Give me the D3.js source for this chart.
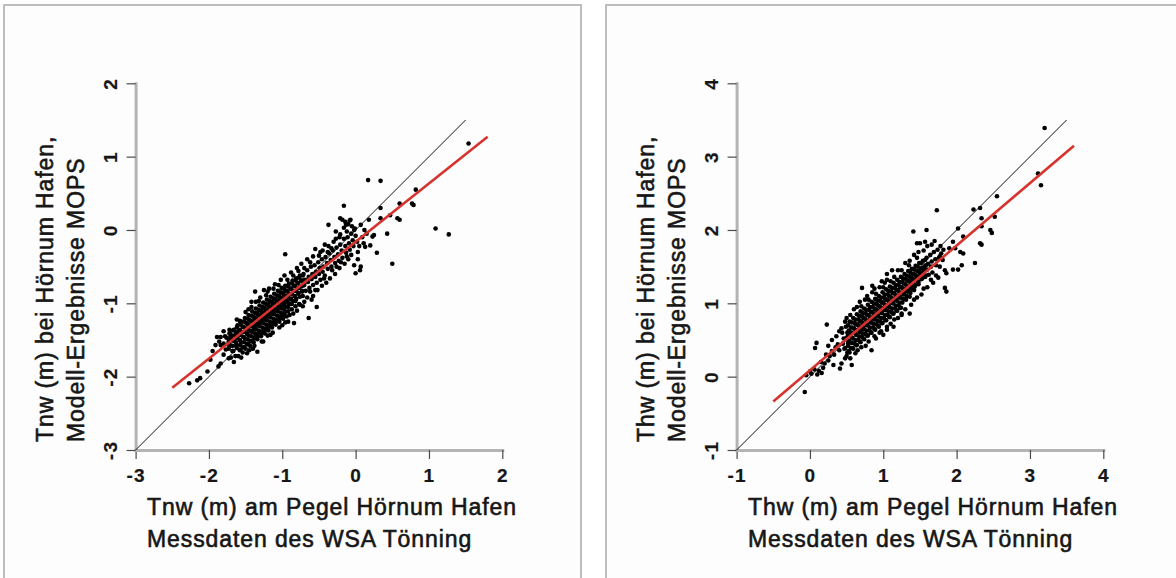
<!DOCTYPE html>
<html>
<head>
<meta charset="utf-8">
<script src="https://cdn.jsdelivr.net/npm/d3@7"></script>
<style>
  body { margin: 0; background: #fff; }
  text { font-family: "Liberation Sans", Arial, sans-serif; fill: #161616; stroke: #161616; stroke-width: 0.6px; }
  .tick text { font-weight: bold; stroke-width: 0.2px; }
</style>
</head>
<body>
<svg id="chart" width="1176" height="578"></svg>
<script>
// ---- data ----
const tnwTicks = [-3, -2, -1, 0, 1, 2];
const thwTicks = [-1, 0, 1, 2, 3, 4];

const tnwXTitle = ["Tnw (m) am Pegel Hörnum Hafen", "Messdaten des WSA Tönning"];
const tnwYTitle = ["Tnw (m) bei Hörnum Hafen,", "Modell-Ergebnisse MOPS"];
const thwXTitle = ["Thw (m) am Pegel Hörnum Hafen", "Messdaten des WSA Tönning"];
const thwYTitle = ["Thw (m) bei Hörnum Hafen,", "Modell-Ergebnisse MOPS"];

// 1:1 line and regression line (end points)
const tnwIdentity = [[-3, -3], [1.5, 1.5]];
const tnwFit = [[-2.5, -2.15], [1.8, 1.27]];
const thwIdentity = [[-1, -1], [3.5, 3.5]];
const thwFit = [[-0.5, -0.34], [3.6, 3.15]];

// measured (x) vs model (y), Tnw
const tnwPoints = [
  [-1.76,-1.47],[-1.74,-1.56],[-1.77,-1.63],[-1.73,-1.52],
  [-1.71,-1.42],[-1.69,-1.50],[-1.72,-1.58],[-1.68,-1.65],[-1.70,-1.46],
  [-1.66,-1.36],[-1.64,-1.44],[-1.65,-1.51],[-1.63,-1.58],[-1.67,-1.65],[-1.62,-1.40],
  [-1.61,-1.30],[-1.59,-1.37],[-1.60,-1.44],[-1.58,-1.50],[-1.62,-1.57],[-1.57,-1.63],
  [-1.56,-1.25],[-1.54,-1.32],[-1.55,-1.39],[-1.53,-1.46],[-1.56,-1.53],[-1.52,-1.60],[-1.54,-1.67],
  [-1.51,-1.20],[-1.49,-1.27],[-1.50,-1.34],[-1.48,-1.41],[-1.51,-1.48],[-1.47,-1.55],[-1.50,-1.62],
  [-1.46,-1.16],[-1.44,-1.23],[-1.45,-1.30],[-1.43,-1.37],[-1.46,-1.44],[-1.42,-1.51],[-1.44,-1.58],
  [-1.41,-1.11],[-1.39,-1.18],[-1.40,-1.25],[-1.38,-1.32],[-1.41,-1.39],[-1.37,-1.46],[-1.39,-1.53],[-1.42,-1.05],
  [-1.36,-1.07],[-1.34,-1.14],[-1.35,-1.21],[-1.33,-1.28],[-1.36,-1.35],[-1.32,-1.42],[-1.34,-1.49],
  [-1.31,-1.03],[-1.29,-1.10],[-1.30,-1.17],[-1.28,-1.24],[-1.31,-1.31],[-1.27,-1.38],[-1.29,-1.45],[-1.32,-0.97],
  [-1.26,-0.99],[-1.24,-1.06],[-1.25,-1.13],[-1.23,-1.20],[-1.26,-1.27],[-1.22,-1.34],[-1.24,-1.41],
  [-1.21,-0.95],[-1.19,-1.02],[-1.20,-1.09],[-1.18,-1.16],[-1.21,-1.23],[-1.17,-1.30],[-1.19,-1.37],[-1.22,-0.89],
  [-1.16,-0.91],[-1.14,-0.98],[-1.15,-1.05],[-1.13,-1.12],[-1.16,-1.19],[-1.12,-1.26],[-1.14,-1.33],
  [-1.11,-0.87],[-1.09,-0.94],[-1.10,-1.01],[-1.08,-1.08],[-1.11,-1.15],[-1.07,-1.22],[-1.09,-1.29],
  [-1.06,-0.83],[-1.04,-0.90],[-1.05,-0.97],[-1.03,-1.04],[-1.06,-1.11],[-1.02,-1.18],[-1.04,-1.25],
  [-1.01,-0.79],[-0.99,-0.86],[-1.00,-0.93],[-0.98,-1.00],[-1.01,-1.07],[-0.97,-1.14],[-0.99,-1.21],
  [-0.96,-0.76],[-0.94,-0.83],[-0.95,-0.90],[-0.93,-0.97],[-0.96,-1.04],[-0.92,-1.11],[-0.94,-1.18],
  [-0.91,-0.73],[-0.89,-0.80],[-0.90,-0.87],[-0.88,-0.94],[-0.91,-1.01],[-0.87,-1.08],
  [-0.86,-0.69],[-0.84,-0.76],[-0.85,-0.83],[-0.83,-0.90],[-0.86,-0.97],[-0.82,-1.04],
  [-0.81,-0.66],[-0.79,-0.73],[-0.80,-0.80],[-0.78,-0.87],[-0.81,-0.94],[-0.77,-1.01],
  [-0.76,-0.62],[-0.74,-0.69],[-0.75,-0.77],[-0.73,-0.84],[-0.76,-0.91],
  [-0.71,-0.60],[-0.69,-0.68],[-0.70,-0.75],[-0.68,-0.83],[-0.72,-0.90],
  [-0.66,-0.55],[-0.64,-0.64],[-0.65,-0.71],[-0.63,-0.79],
  [-0.61,-0.50],[-0.59,-0.60],[-0.60,-0.67],[-0.58,-0.75],[-0.62,-0.84],
  [-0.56,-0.48],[-0.54,-0.57],[-0.55,-0.64],[-0.53,-0.72],
  [-0.51,-0.44],[-0.49,-0.52],[-0.50,-0.60],[-0.48,-0.68],
  [-0.46,-0.40],[-0.44,-0.50],[-0.45,-0.57],[-0.43,-0.66],
  [-0.41,-0.37],[-0.39,-0.45],[-0.38,-0.53],[-0.42,-0.62],
  [-0.36,-0.32],[-0.34,-0.41],[-0.33,-0.50],
  [-0.31,-0.28],[-0.29,-0.37],[-0.28,-0.45],[-0.32,-0.55],
  [-0.26,-0.24],[-0.24,-0.33],[-0.23,-0.42],
  [-0.21,-0.20],[-0.19,-0.28],[-0.18,-0.38],
  [-0.16,-0.12],[-0.14,-0.22],[-0.13,-0.31],
  [-0.11,-0.10],[-0.09,-0.18],[-0.08,-0.27],
  [-0.06,-0.05],[-0.04,-0.14],[-0.03,-0.22],
  [0.00,-0.08],[0.02,-0.16],[-0.01,0.02],
  [-1.72,-1.41],[-1.73,-1.48],[-1.72,-1.55],[-1.73,-1.62],
  [-1.67,-1.37],[-1.68,-1.44],[-1.67,-1.51],[-1.68,-1.58],[-1.67,-1.65],
  [-1.62,-1.33],[-1.63,-1.40],[-1.62,-1.47],[-1.63,-1.54],[-1.62,-1.61],
  [-1.57,-1.29],[-1.58,-1.36],[-1.57,-1.43],[-1.58,-1.50],[-1.57,-1.57],[-1.58,-1.64],
  [-1.52,-1.25],[-1.53,-1.32],[-1.52,-1.39],[-1.53,-1.46],[-1.52,-1.53],[-1.53,-1.60],
  [-1.47,-1.21],[-1.48,-1.28],[-1.47,-1.35],[-1.48,-1.42],[-1.47,-1.49],[-1.48,-1.56],
  [-1.42,-1.17],[-1.43,-1.24],[-1.42,-1.31],[-1.43,-1.38],[-1.42,-1.45],[-1.43,-1.52],
  [-1.37,-1.13],[-1.38,-1.20],[-1.37,-1.27],[-1.38,-1.34],[-1.37,-1.41],[-1.38,-1.48],
  [-1.32,-1.09],[-1.33,-1.16],[-1.32,-1.23],[-1.33,-1.30],[-1.32,-1.37],[-1.33,-1.44],
  [-1.27,-1.05],[-1.28,-1.12],[-1.27,-1.19],[-1.28,-1.26],[-1.27,-1.33],[-1.28,-1.40],
  [-1.22,-1.01],[-1.23,-1.08],[-1.22,-1.15],[-1.23,-1.22],[-1.22,-1.29],[-1.23,-1.36],
  [-1.17,-0.97],[-1.18,-1.04],[-1.17,-1.11],[-1.18,-1.18],[-1.17,-1.25],[-1.18,-1.32],
  [-1.12,-0.93],[-1.13,-1.00],[-1.12,-1.07],[-1.13,-1.14],[-1.12,-1.21],[-1.13,-1.28],
  [-1.07,-0.89],[-1.08,-0.96],[-1.07,-1.03],[-1.08,-1.10],[-1.07,-1.17],[-1.08,-1.24],
  [-1.02,-0.85],[-1.03,-0.92],[-1.02,-0.99],[-1.03,-1.06],[-1.02,-1.13],[-1.03,-1.20],
  [-0.97,-0.81],[-0.98,-0.88],[-0.97,-0.95],[-0.98,-1.02],[-0.97,-1.09],[-0.98,-1.16],
  [-0.92,-0.77],[-0.93,-0.84],[-0.92,-0.91],[-0.93,-0.98],[-0.92,-1.05],
  [-0.87,-0.73],[-0.88,-0.80],[-0.87,-0.87],[-0.88,-0.94],[-0.87,-1.01],
  [-0.82,-0.69],[-0.83,-0.76],[-0.82,-0.83],[-0.83,-0.90],[-0.82,-0.97],
  [-0.77,-0.65],[-0.78,-0.72],[-0.77,-0.79],[-0.78,-0.86],
  [-0.72,-0.62],[-0.73,-0.69],[-0.72,-0.76],[-0.73,-0.83],
  [-1.72,-1.36],[-1.58,-1.24],[-1.50,-1.12],[-1.42,-0.98],[-1.30,-0.92],[-1.20,-0.84],
  [-1.12,-0.80],[-1.05,-0.75],[-0.93,-0.68],[-0.85,-0.62],[-0.78,-0.56],[-0.70,-0.52],[-0.62,-0.44],
  [-1.64,-1.72],[-1.56,-1.74],[-1.45,-1.64],[-1.38,-1.58],[-1.28,-1.52],[-1.20,-1.44],
  [-1.13,-1.40],[-1.04,-1.33],[-0.96,-1.26],[-0.90,-1.16],[-0.80,-1.10],[-0.72,-1.04],
  [-0.66,-0.92],[-0.60,-0.95],[-0.55,-0.82],
  [-1.80,-1.38],[-1.62,-1.22],[-1.46,-1.08],[-1.36,-0.98],[-1.37,-0.84],[-1.25,-0.82],
  [-1.18,-0.80],[-1.10,-0.74],[-1.02,-0.68],[-0.96,-0.33],[-0.97,-0.62],[-0.88,-0.58],
  [-0.80,-0.52],[-0.74,-0.46],[-0.66,-0.40],[-0.58,-0.36],[-0.55,-0.26],[-0.48,-0.30],
  [-0.42,-0.20],[-0.37,-0.22],[-0.30,-0.16],[-0.27,-0.02],[-0.21,-0.06],[-0.16,0.03],[-0.13,0.07],
  [-1.70,-1.74],[-1.60,-1.72],[-1.48,-1.68],[-1.40,-1.62],[-1.34,-1.66],[-1.26,-1.52],
  [-1.16,-1.43],[-1.00,-1.30],[-0.92,-1.25],[-0.84,-1.27],[-0.85,-1.14],[-0.76,-1.02],
  [-0.70,-0.98],[-0.64,-1.20],[-0.53,-1.05],[-0.58,-0.90],[-0.52,-0.82],[-0.46,-0.76],
  [-0.40,-0.72],[-0.35,-0.66],[-0.28,-0.60],[-0.22,-0.52],[-0.15,-0.46],[-0.10,-0.40],
  [-0.02,-0.48],[0.00,-0.59],[0.06,-0.55],[0.07,-0.50],
  [-1.84,-1.46],[-1.89,-1.46],[-1.91,-1.57],[-1.84,-1.57],[-1.98,-1.77],[-1.87,-1.86],
  [-1.84,-1.82],[-2.02,-1.93],[-1.73,-1.75],[-1.66,-1.80],[-2.12,-2.02],[-2.16,-2.05],
  [-2.27,-2.09],[-1.80,-1.70],[-1.95,-1.65],[-1.86,-1.52],[-1.80,-1.55],[-1.78,-1.45],
  [-0.50,-0.35],[-0.45,-0.28],[-0.38,-0.30],[-0.33,-0.25],[-0.27,-0.12],[-0.22,-0.10],
  [-0.12,-0.02],[-0.10,0.08],[-0.02,0.00],[0.03,-0.30],[0.05,-0.22],[0.09,-0.10],
  [0.12,0.00],[-0.06,-0.34],[-0.12,-0.36],[-0.20,-0.44],[-0.26,-0.50],[0.15,-0.05],[0.03,-0.40],
  [0.17,0.68],[0.34,0.67],[0.82,0.55],[0.60,0.36],[0.77,0.36],[0.79,0.34],[0.34,0.30],
  [-0.16,0.33],[1.09,0.02],[1.27,-0.06],[0.50,-0.46],[0.43,-0.05],[0.57,0.16],[0.60,0.14],
  [0.47,0.20],[0.34,0.16],[0.18,0.14],[0.25,-0.07],[0.23,-0.09],[0.11,-0.18],[0.13,-0.23],
  [0.20,-0.21],[0.29,-0.31],[-0.37,0.07],[-0.21,0.16],[-0.18,0.14],[-0.14,0.11],[-0.07,0.14],
  [-0.05,0.05],[0.07,0.07],[1.54,1.18],[-0.08,0.13]
];

// measured (x) vs model (y), Thw
const thwPoints = [
  [0.44,0.60],[0.46,0.52],[0.45,0.45],[0.47,0.38],[0.43,0.66],
  [0.49,0.68],[0.51,0.60],[0.50,0.53],[0.52,0.46],[0.48,0.39],[0.51,0.33],
  [0.54,0.75],[0.56,0.67],[0.55,0.60],[0.57,0.53],[0.53,0.46],[0.56,0.39],[0.54,0.33],
  [0.59,0.80],[0.61,0.73],[0.60,0.66],[0.62,0.59],[0.58,0.52],[0.61,0.45],[0.59,0.38],
  [0.64,0.85],[0.66,0.78],[0.65,0.71],[0.67,0.64],[0.63,0.57],[0.66,0.50],[0.64,0.43],
  [0.69,0.89],[0.71,0.82],[0.70,0.75],[0.72,0.68],[0.68,0.61],[0.71,0.54],[0.69,0.47],[0.70,0.96],
  [0.74,0.93],[0.76,0.86],[0.75,0.79],[0.77,0.72],[0.73,0.65],[0.76,0.58],[0.74,0.51],
  [0.79,0.98],[0.81,0.91],[0.80,0.84],[0.82,0.77],[0.78,0.70],[0.81,0.63],[0.79,0.56],[0.80,1.05],
  [0.84,1.02],[0.86,0.95],[0.85,0.88],[0.87,0.81],[0.83,0.74],[0.86,0.67],[0.84,0.60],
  [0.89,1.06],[0.91,0.99],[0.90,0.92],[0.92,0.85],[0.88,0.78],[0.91,0.71],[0.89,0.64],[0.90,1.13],
  [0.94,1.10],[0.96,1.03],[0.95,0.96],[0.97,0.89],[0.93,0.82],[0.96,0.75],[0.94,0.68],
  [0.99,1.15],[1.01,1.08],[1.00,1.01],[1.02,0.94],[0.98,0.87],[1.01,0.80],[0.99,0.73],[1.00,1.22],
  [1.04,1.19],[1.06,1.12],[1.05,1.05],[1.07,0.98],[1.03,0.91],[1.06,0.84],[1.04,0.77],
  [1.09,1.23],[1.11,1.16],[1.10,1.09],[1.12,1.02],[1.08,0.95],[1.11,0.88],[1.09,0.81],[1.10,1.30],
  [1.14,1.28],[1.16,1.21],[1.15,1.14],[1.17,1.07],[1.13,1.00],[1.16,0.93],[1.14,0.86],
  [1.19,1.32],[1.21,1.25],[1.20,1.18],[1.22,1.11],[1.18,1.04],[1.21,0.97],[1.19,0.90],
  [1.24,1.36],[1.26,1.29],[1.25,1.22],[1.27,1.15],[1.23,1.08],[1.26,1.01],[1.24,0.94],
  [1.29,1.40],[1.31,1.33],[1.30,1.26],[1.32,1.19],[1.28,1.12],[1.31,1.05],
  [1.34,1.44],[1.36,1.37],[1.35,1.30],[1.37,1.23],[1.33,1.16],[1.36,1.09],
  [1.39,1.47],[1.41,1.40],[1.40,1.33],[1.42,1.26],[1.38,1.19],
  [1.44,1.51],[1.46,1.44],[1.45,1.37],[1.47,1.30],[1.43,1.23],
  [1.49,1.55],[1.51,1.47],[1.50,1.40],[1.52,1.33],[1.48,1.26],
  [1.54,1.58],[1.56,1.50],[1.55,1.43],[1.57,1.36],
  [1.59,1.62],[1.61,1.54],[1.60,1.46],[1.62,1.39],
  [1.64,1.66],[1.66,1.57],[1.65,1.50],[1.67,1.42],
  [1.69,1.70],[1.71,1.60],[1.72,1.52],
  [1.74,1.73],[1.76,1.62],[1.77,1.50],
  [1.79,1.68],[1.81,1.59],
  [0.52,0.70],[0.53,0.63],[0.52,0.56],[0.53,0.49],[0.52,0.42],[0.53,0.35],
  [0.57,0.74],[0.58,0.67],[0.57,0.60],[0.58,0.53],[0.57,0.46],[0.58,0.39],
  [0.62,0.78],[0.63,0.71],[0.62,0.64],[0.63,0.57],[0.62,0.50],[0.63,0.43],
  [0.67,0.83],[0.68,0.76],[0.67,0.69],[0.68,0.62],[0.67,0.55],[0.68,0.48],
  [0.72,0.87],[0.73,0.80],[0.72,0.73],[0.73,0.66],[0.72,0.59],[0.73,0.52],
  [0.77,0.91],[0.78,0.84],[0.77,0.77],[0.78,0.70],[0.77,0.63],[0.78,0.56],
  [0.82,0.95],[0.83,0.88],[0.82,0.81],[0.83,0.74],[0.82,0.67],[0.83,0.60],
  [0.87,1.00],[0.88,0.93],[0.87,0.86],[0.88,0.79],[0.87,0.72],[0.88,0.65],
  [0.92,1.04],[0.93,0.97],[0.92,0.90],[0.93,0.83],[0.92,0.76],[0.93,0.69],
  [0.97,1.08],[0.98,1.01],[0.97,0.94],[0.98,0.87],[0.97,0.80],[0.98,0.73],
  [1.02,1.12],[1.03,1.05],[1.02,0.98],[1.03,0.91],[1.02,0.84],[1.03,0.77],
  [1.07,1.17],[1.08,1.10],[1.07,1.03],[1.08,0.96],[1.07,0.89],[1.08,0.82],
  [1.12,1.21],[1.13,1.14],[1.12,1.07],[1.13,1.00],[1.12,0.93],[1.13,0.86],
  [1.17,1.25],[1.18,1.18],[1.17,1.11],[1.18,1.04],[1.17,0.97],[1.18,0.90],
  [1.22,1.29],[1.23,1.22],[1.22,1.15],[1.23,1.08],[1.22,1.01],[1.23,0.94],
  [1.27,1.34],[1.28,1.27],[1.27,1.20],[1.28,1.13],[1.27,1.06],
  [1.32,1.38],[1.33,1.31],[1.32,1.24],[1.33,1.17],[1.32,1.10],
  [1.37,1.42],[1.38,1.35],[1.37,1.28],[1.38,1.21],[1.37,1.14],
  [1.42,1.46],[1.43,1.39],[1.42,1.32],[1.43,1.25],[1.42,1.18],
  [1.47,1.50],[1.48,1.43],[1.47,1.36],[1.48,1.29],
  [1.52,1.55],[1.53,1.48],[1.52,1.41],[1.53,1.34],
  [1.57,1.59],[1.58,1.52],[1.57,1.45],[1.58,1.38],
  [0.40,0.62],[0.48,0.75],[0.55,0.84],[0.64,0.95],[0.68,1.02],[0.78,1.10],[0.88,1.20],
  [1.02,1.28],[1.15,1.36],[1.25,1.45],[1.35,1.52],[1.46,1.62],
  [0.50,0.28],[0.62,0.32],[0.70,0.40],[0.80,0.48],[0.88,0.55],[0.97,0.62],[1.10,0.72],
  [1.20,0.80],[1.30,0.92],[1.42,1.05],[1.55,1.20],[1.65,1.32],[1.72,1.38],
  [0.85,1.15],[0.95,1.22],[1.05,1.32],[0.95,0.60],[1.05,0.68],[1.15,0.78],[1.25,0.86],
  [0.40,0.36],[0.38,0.44],[0.35,0.40],[0.33,0.30],[0.30,0.35],[0.27,0.28],[0.25,0.22],
  [0.22,0.30],[0.20,0.18],[0.18,0.12],[0.15,0.20],[0.12,0.08],[0.10,0.03],[0.06,0.10],
  [0.02,0.04],[0.00,0.07],[-0.05,0.02],[-0.07,-0.21],[0.23,0.71],[0.09,0.46],[0.07,0.39],
  [0.16,0.05],[0.41,0.11],[0.43,0.18],[0.57,0.16],[0.30,0.50],[0.36,0.55],[0.32,0.16],
  [0.48,0.25],[0.25,0.42],
  [0.50,0.80],[0.60,0.92],[0.71,1.21],[0.75,1.05],[0.85,1.24],[0.98,1.30],[1.05,1.40],
  [1.12,1.45],[1.20,1.45],[1.30,1.55],[1.36,1.58],[1.42,1.66],[1.48,1.70],[1.55,1.72],
  [1.41,1.98],[1.46,1.82],[1.59,2.00],[1.73,2.27],[1.60,1.78],[1.66,1.80],[1.50,1.82],[1.57,1.84],
  [0.55,0.25],[0.65,0.36],[0.76,0.42],[0.84,0.36],[0.90,0.52],[1.00,0.57],[1.05,0.64],
  [1.14,0.68],[1.25,0.84],[1.36,0.86],[1.38,0.98],[1.46,1.08],[1.52,1.12],[1.60,1.22],
  [1.68,1.28],[1.84,1.21],[1.86,1.16],[1.75,1.35],[1.95,1.46],[2.02,1.46],[2.07,1.52],
  [2.09,1.68],[2.25,1.55],[1.84,1.45],[1.86,1.41],
  [1.82,1.73],[1.77,1.64],[2.02,2.02],[2.09,1.91],[2.23,2.28],[2.32,2.30],[2.55,2.46],
  [2.34,2.05],[2.34,2.16],[2.52,2.18],[2.46,2.00],[2.48,1.96],[2.32,1.82],[2.34,1.80],
  [3.20,3.39],[3.11,2.77],[3.15,2.61],[1.90,1.75],[1.95,1.84],[2.05,1.70],[1.98,1.75],
  [1.70,1.85],[1.78,1.78]
];

// ---- drawing ----
const svg = d3.select("#chart");

const panels = [
  {ox: 0, frame: [4, 581], ticks: tnwTicks, points: tnwPoints, identity: tnwIdentity,
   fit: tnwFit, xTitle: tnwXTitle, yTitle: tnwYTitle},
  {ox: 601, frame: [606, 1190], ticks: thwTicks, points: thwPoints, identity: thwIdentity,
   fit: thwFit, xTitle: thwXTitle, yTitle: thwYTitle}
];

panels.forEach(p => {
  svg.append("rect")
    .attr("x", p.frame[0]).attr("y", 5)
    .attr("width", p.frame[1] - p.frame[0]).attr("height", 620)
    .attr("fill", "#fdfdfd")
    .attr("stroke", "#bdbdbd")
    .attr("stroke-width", 2);

  const g = svg.append("g").attr("transform", `translate(${p.ox},0)`);

  const x = d3.scaleLinear().domain(d3.extent(p.ticks)).range([135.6, 502.3]);
  const y = d3.scaleLinear().domain(d3.extent(p.ticks)).range([450, 83.3]);

  // axes
  const xAxis = g.append("g")
    .attr("transform", "translate(0,450)")
    .call(d3.axisBottom(x).tickValues(p.ticks).tickFormat(d => String(d))
      .tickSize(9).tickSizeOuter(0).tickPadding(10));
  const yAxis = g.append("g")
    .attr("transform", "translate(135.6,0)")
    .call(d3.axisLeft(y).tickValues(p.ticks).tickFormat(d => String(d))
      .tickSize(9).tickSizeOuter(0));

  [xAxis, yAxis].forEach(a => {
    a.attr("font-family", null).attr("font-size", null);
    a.select(".domain").attr("stroke", "#b4b4b4").attr("stroke-width", 3)
      .attr("stroke-linecap", "square");
    a.selectAll(".tick line").attr("stroke", "#4a4a4a").attr("stroke-width", 1.2);
    a.selectAll(".tick text").attr("font-size", 19).attr("letter-spacing", 1.2)
      .attr("fill", "#161616");
  });

  yAxis.selectAll(".tick text")
    .attr("transform", "rotate(-90)")
    .attr("x", 0).attr("y", -18.5).attr("dy", null)
    .attr("text-anchor", "middle");

  // points, then the two lines on top
  g.append("g").selectAll("circle")
    .data(p.points)
    .join("circle")
    .attr("cx", d => x(d[0]))
    .attr("cy", d => y(d[1]))
    .attr("r", 2.3)
    .attr("fill", "#000");

  const line = d3.line().x(d => x(d[0])).y(d => y(d[1]));
  g.append("path").datum(p.identity)
    .attr("d", line).attr("fill", "none")
    .attr("stroke", "#111").attr("stroke-width", 1);
  g.append("path").datum(p.fit)
    .attr("d", line).attr("fill", "none")
    .attr("stroke", "#d7332e").attr("stroke-width", 2.6);

  // titles
  g.selectAll(".xtitle")
    .data(p.xTitle)
    .join("text")
    .attr("class", "xtitle")
    .attr("x", 147)
    .attr("y", (d, i) => 515 + i * 31.6)
    .attr("font-size", 23)
    .attr("letter-spacing", 0.9)
    .text(d => d);

  g.selectAll(".ytitle")
    .data(p.yTitle)
    .join("text")
    .attr("class", "ytitle")
    .attr("transform", (d, i) => `translate(${52.6 + i * 31.4},442) rotate(-90)`)
    .attr("font-size", 23)
    .attr("letter-spacing", 0.9)
    .text(d => d);
});
</script>
</body>
</html>
